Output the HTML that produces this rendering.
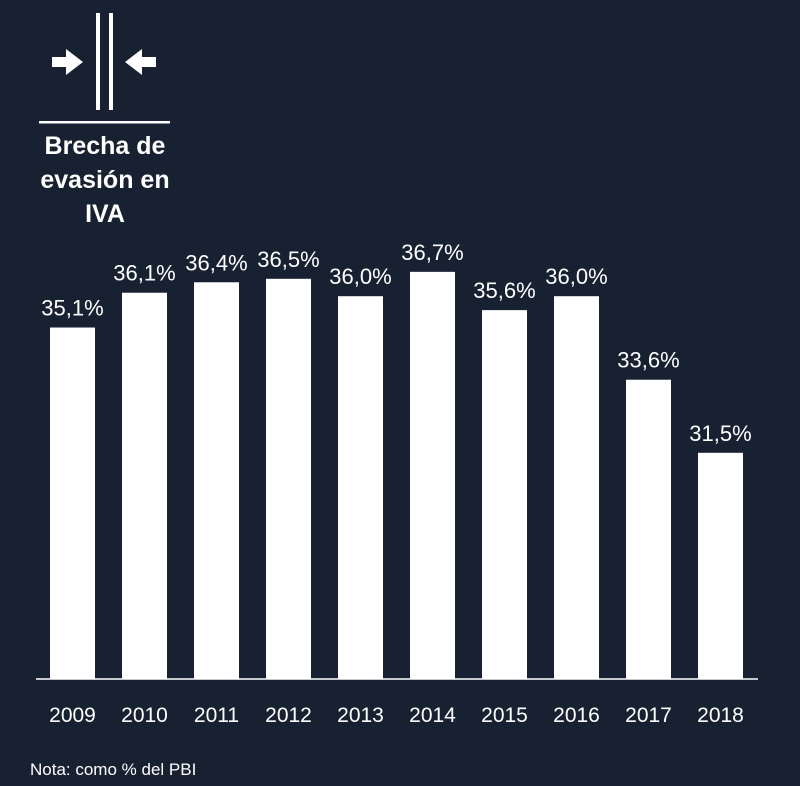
<!DOCTYPE html>
<html><head><meta charset="utf-8"><style>
body{margin:0;background:#172132;}
svg{display:block;font-family:"Liberation Sans",Arial,sans-serif;}
</style></head><body>
<svg id="chart" width="800" height="786" viewBox="0 0 800 786">
<rect width="800" height="786" fill="#172132"/>
<g fill="#fff">
<rect x="96" y="13" width="4" height="97"/>
<rect x="109" y="13" width="4" height="97"/>
<rect x="52" y="57" width="16" height="10"/>
<polygon points="66,49 83,62 66,75"/>
<rect x="140" y="57" width="16" height="10"/>
<polygon points="142,49 125,62 142,75"/>
</g>
<rect x="39" y="121" width="131" height="2.5" fill="#fff"/>
<g fill="#fff" font-weight="bold" font-size="25" text-anchor="middle">
<text x="105" y="154">Brecha de</text>
<text x="105" y="188">evasión en</text>
<text x="105" y="222">IVA</text>
</g>
<g id="bars"></g>
<line x1="36" y1="679" x2="758" y2="679" stroke="#fff" stroke-width="1.5"/>
<text x="30" y="775" fill="#fff" font-size="17">Nota: como % del PBI</text>
</svg>
<script>
const categories=["2009","2010","2011","2012","2013","2014","2015","2016","2017","2018"];
const values=[35.1,36.1,36.4,36.5,36.0,36.7,35.6,36.0,33.6,31.5];
const valueLabels=["35,1%","36,1%","36,4%","36,5%","36,0%","36,7%","35,6%","36,0%","33,6%","31,5%"];
const yMin=25;
const NS="http://www.w3.org/2000/svg";
const baseY=679,pxPerUnit=34.8,x0=50,pitch=72,bw=45;
const yScale=v=>baseY-(v-yMin)*pxPerUnit;
const xScale=i=>x0+i*pitch;
const g=document.getElementById('bars');
categories.forEach((c,i)=>{
  const x=xScale(i),y=yScale(values[i]);
  const r=document.createElementNS(NS,'rect');
  r.setAttribute('x',x);r.setAttribute('y',y);r.setAttribute('width',bw);r.setAttribute('height',baseY-y);r.setAttribute('fill','#fff');
  
  
  g.appendChild(r);
  const t=document.createElementNS(NS,'text');
  t.setAttribute('x',x+bw/2);t.setAttribute('y',y-12);t.setAttribute('fill','#fff');t.setAttribute('font-size','22');t.setAttribute('text-anchor','middle');
  t.textContent=valueLabels[i];
  
  
  g.appendChild(t);
  const l=document.createElementNS(NS,'text');
  l.setAttribute('x',x+bw/2);l.setAttribute('y',722);l.setAttribute('fill','#fff');l.setAttribute('font-size','21');l.setAttribute('text-anchor','middle');
  l.textContent=c;
  
  
  g.appendChild(l);
});
</script>
</body></html>
